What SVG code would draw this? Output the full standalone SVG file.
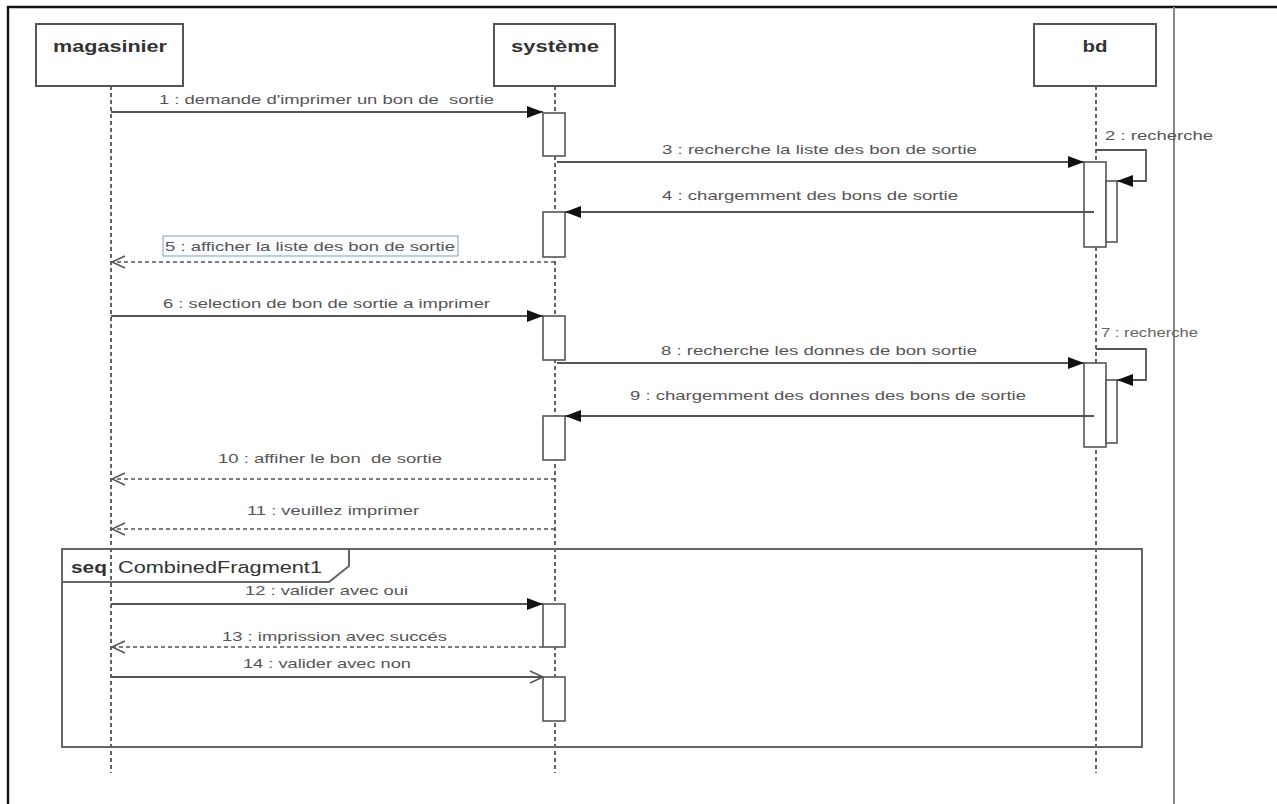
<svg xmlns="http://www.w3.org/2000/svg" width="1277" height="804" viewBox="0 0 1277 804">
  <style>
    .head { fill: #fff; stroke: #555; stroke-width: 2; }
    .head-label { font-family: "Liberation Sans", Arial, sans-serif; font-weight: bold; font-size: 16px; fill: #333; }
    .lifeline { stroke: #111; stroke-width: 1.3; stroke-dasharray: 4 3; fill: none; }
    .act { fill: #fff; stroke: #555; stroke-width: 1.6; }
    .msg { stroke: #555; stroke-width: 1.8; fill: none; }
    .ret { stroke: #555; stroke-width: 1.6; stroke-dasharray: 4 3; fill: none; }
    .lbl { font-family: "Liberation Sans", Arial, sans-serif; font-size: 13px; fill: #555; white-space: pre; }
    .lbl-small { font-family: "Liberation Sans", Arial, sans-serif; font-size: 12px; fill: #666; }
    .frag { fill: none; stroke: #666; stroke-width: 2; }
    .frag-label { font-family: "Liberation Sans", Arial, sans-serif; font-size: 17px; fill: #333; }
  </style>
  <defs>
    <marker id="filled" markerUnits="userSpaceOnUse" markerWidth="18" markerHeight="14" refX="16" refY="7" orient="auto">
      <path d="M0,1 L16,7 L0,13 Z" fill="#111"/>
    </marker>
    <marker id="open" markerUnits="userSpaceOnUse" markerWidth="16" markerHeight="14" refX="14" refY="7" orient="auto">
      <path d="M1,1 L14,7 L1,13" fill="none" stroke="#555" stroke-width="1.5"/>
    </marker>
  </defs>

  <rect x="0" y="0" width="1277" height="804" fill="#fff"/>

  <!-- page frame -->
  <g id="page-frame">
    <path d="M8,804 V7 H1277" fill="none" stroke="#111" stroke-width="2.4"/>
    <line x1="1174" y1="7" x2="1174" y2="804" stroke="#888" stroke-width="2"/>
  </g>

  <!-- lifelines -->
  <g id="magasinier">
    <line class="lifeline" x1="111" y1="86" x2="111" y2="773"/>
    <rect class="head" x="36" y="24" width="147" height="62"/>
    <text class="head-label" x="110" y="52" text-anchor="middle" textLength="114" lengthAdjust="spacingAndGlyphs">magasinier</text>
  </g>
  <g id="systeme">
    <line class="lifeline" x1="555" y1="86" x2="555" y2="773"/>
    <rect class="head" x="494" y="24" width="121" height="62"/>
    <text class="head-label" x="555" y="52" text-anchor="middle" textLength="88" lengthAdjust="spacingAndGlyphs">système</text>
  </g>
  <g id="bd">
    <line class="lifeline" x1="1096" y1="86" x2="1096" y2="773"/>
    <rect class="head" x="1034" y="24" width="122" height="62"/>
    <text class="head-label" x="1095" y="52" text-anchor="middle" textLength="25" lengthAdjust="spacingAndGlyphs">bd</text>
  </g>

  <!-- combined fragment -->
  <g id="combined-fragment">
    <rect class="frag" x="62" y="549" width="1080" height="198"/>
    <path class="frag" d="M62,582 H329 L349,566 V549"/>
    <text class="frag-label" x="71" y="573" font-weight="bold" textLength="36" lengthAdjust="spacingAndGlyphs">seq</text>
    <text class="frag-label" x="118" y="573" textLength="204" lengthAdjust="spacingAndGlyphs">CombinedFragment1</text>
  </g>

  <!-- activation bars -->
  <g id="activations">
    <rect class="act" x="543" y="113" width="22" height="43"/>
    <rect class="act" x="543" y="212" width="22" height="45"/>
    <rect class="act" x="543" y="316" width="22" height="44"/>
    <rect class="act" x="543" y="416" width="22" height="44"/>
    <rect class="act" x="543" y="604" width="22" height="43"/>
    <rect class="act" x="543" y="677" width="22" height="44"/>
    <rect class="act" x="1084" y="162" width="22" height="85"/>
    <rect class="act" x="1106" y="181" width="11" height="61"/>
    <rect class="act" x="1084" y="363" width="22" height="84"/>
    <rect class="act" x="1106" y="380" width="11" height="63"/>
  </g>

  <!-- messages -->
  <g id="connectors">
    <line class="msg" x1="111" y1="112" x2="543" y2="112" marker-end="url(#filled)"/>
    <path class="msg" d="M1096,150 H1146 V181 H1117" marker-end="url(#filled)"/>
    <line class="msg" x1="557" y1="162" x2="1084" y2="162" marker-end="url(#filled)"/>
    <line class="msg" x1="1094" y1="212" x2="565" y2="212" marker-end="url(#filled)"/>
    <line class="ret" x1="555" y1="262" x2="112" y2="262" marker-end="url(#open)"/>
    <line class="msg" x1="111" y1="316" x2="543" y2="316" marker-end="url(#filled)"/>
    <path class="msg" d="M1096,349 H1146 V380 H1117" marker-end="url(#filled)"/>
    <line class="msg" x1="557" y1="363" x2="1084" y2="363" marker-end="url(#filled)"/>
    <line class="msg" x1="1094" y1="416" x2="565" y2="416" marker-end="url(#filled)"/>
    <line class="ret" x1="555" y1="479" x2="112" y2="479" marker-end="url(#open)"/>
    <line class="ret" x1="555" y1="529" x2="112" y2="529" marker-end="url(#open)"/>
    <line class="msg" x1="111" y1="604" x2="543" y2="604" marker-end="url(#filled)"/>
    <line class="ret" x1="543" y1="647" x2="112" y2="647" marker-end="url(#open)"/>
    <line class="msg" x1="111" y1="677" x2="543" y2="677" marker-end="url(#open)"/>
  </g>

  <!-- message labels -->
  <g id="labels">
    <text class="lbl" x="159" y="104" textLength="335" lengthAdjust="spacingAndGlyphs" xml:space="preserve">1 : demande d'imprimer un bon de  sortie</text>
    <text class="lbl" x="1105" y="140" textLength="108" lengthAdjust="spacingAndGlyphs">2 : recherche</text>
    <text class="lbl" x="662" y="154" textLength="315" lengthAdjust="spacingAndGlyphs">3 : recherche la liste des bon de sortie</text>
    <text class="lbl" x="662" y="200" textLength="296" lengthAdjust="spacingAndGlyphs">4 : chargemment des bons de sortie</text>
    <rect x="163" y="236" width="295" height="20" fill="#fbfcfe" stroke="#7f9fc0" stroke-width="1"/>
    <text class="lbl" x="165" y="251" textLength="290" lengthAdjust="spacingAndGlyphs">5 : afficher la liste des bon de sortie</text>
    <text class="lbl" x="163" y="308" textLength="327" lengthAdjust="spacingAndGlyphs">6 : selection de bon de sortie a imprimer</text>
    <text class="lbl-small" x="1101" y="337" textLength="97" lengthAdjust="spacingAndGlyphs">7 : recherche</text>
    <text class="lbl" x="661" y="355" textLength="316" lengthAdjust="spacingAndGlyphs">8 : recherche les donnes de bon sortie</text>
    <text class="lbl" x="630" y="400" textLength="396" lengthAdjust="spacingAndGlyphs">9 : chargemment des donnes des bons de sortie</text>
    <text class="lbl" x="218" y="463" textLength="224" lengthAdjust="spacingAndGlyphs" xml:space="preserve">10 : affiher le bon  de sortie</text>
    <text class="lbl" x="247" y="515" textLength="172" lengthAdjust="spacingAndGlyphs">11 : veuillez imprimer</text>
    <text class="lbl" x="245" y="595" textLength="163" lengthAdjust="spacingAndGlyphs">12 : valider avec oui</text>
    <text class="lbl" x="222" y="641" textLength="225" lengthAdjust="spacingAndGlyphs">13 : imprission avec succés</text>
    <text class="lbl" x="243" y="668" textLength="168" lengthAdjust="spacingAndGlyphs">14 : valider avec non</text>
  </g>
</svg>
